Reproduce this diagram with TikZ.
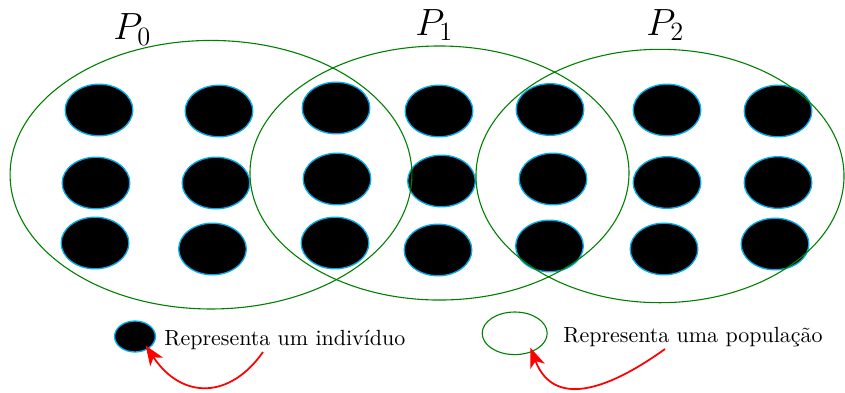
\documentclass[tikz,border=0pt]{standalone}
\usetikzlibrary{shapes.geometric,arrows.meta}
\definecolor{popgreen}{RGB}{0,128,0}
\begin{document}
\begin{tikzpicture}[x=0.016cm,y=-0.016cm,
  indiv/.style={ellipse,fill=black,draw=cyan,line width=0.6pt,inner sep=0pt,
    minimum width=30.8pt,minimum height=23.5pt},
  popul/.style={ellipse,draw=popgreen,line width=0.5pt,inner sep=0pt},
  lbl/.style={inner sep=0pt,anchor=base west},
  redarrow/.style={draw=red,line width=0.8pt,-{Stealth[length=9pt,width=7pt,inset=2.5pt]},shorten >=-2pt}]
\useasboundingbox (0,0) rectangle (845,392);
% individuals
\node[indiv] (d11) at (99,110) {};
\node[indiv] (d12) at (219,111) {};
\node[indiv] (d13) at (336,108) {};
\node[indiv] (d14) at (439,111) {};
\node[indiv] (d15) at (550,109.5) {};
\node[indiv] (d16) at (667,110) {};
\node[indiv] (d17) at (778,111) {};
\node[indiv] (d21) at (96,183) {};
\node[indiv] (d22) at (216,183) {};
\node[indiv] (d23) at (337,179) {};
\node[indiv] (d24) at (441.5,181) {};
\node[indiv] (d25) at (553,179) {};
\node[indiv] (d26) at (667,182.5) {};
\node[indiv] (d27) at (778,182.5) {};
\node[indiv] (d31) at (95,243) {};
\node[indiv] (d32) at (212.5,249) {};
\node[indiv] (d33) at (335,243) {};
\node[indiv] (d34) at (438,250) {};
\node[indiv] (d35) at (549.5,246) {};
\node[indiv] (d36) at (664,249) {};
\node[indiv] (d37) at (775,244) {};
% populations
\node[popul,minimum width=183pt,minimum height=122.3pt] (p0) at (211,174.7) {};
\node[popul,minimum width=172.6pt,minimum height=115.7pt] (p1) at (439.5,173) {};
\node[popul,minimum width=167.6pt,minimum height=115.4pt] (p2) at (660,176) {};
% labels
\node[lbl] (l0) at (113,39.3) {\LARGE $P_0$};
\node[lbl] (l1) at (415,35) {\LARGE $P_1$};
\node[lbl] (l2) at (646,35) {\LARGE $P_2$};
% legend
\node[indiv,minimum width=18.6pt,minimum height=14.1pt] (legdot) at (135,336.5) {};
\node[lbl] (legtext1) at (164,345) {Representa um indivíduo};
\node[popul,minimum width=29.6pt,minimum height=19.4pt] (legpop) at (514.7,333.3) {};
\node[lbl] (legtext2) at (563,342.7) {Representa uma população};
\coordinate (s1) at (263,352);
\coordinate (s2) at (665,349);
\draw[redarrow] (s1) .. controls (230,399) and (182,400) .. (legdot.-44);
\draw[redarrow] (s2) .. controls (615,385) and (555,412) .. (legpop.-47);
\end{tikzpicture}
\end{document}
